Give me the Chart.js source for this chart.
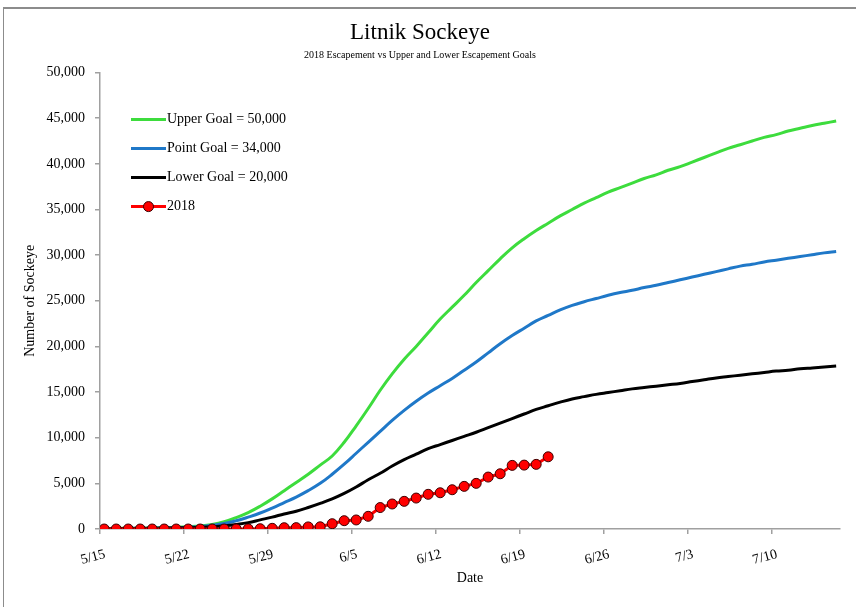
<!DOCTYPE html>
<html>
<head>
<meta charset="utf-8">
<script src="https://cdn.jsdelivr.net/npm/chart.js@4.4.1/dist/chart.umd.min.js"></script>
<style>
  body { margin: 0; background: #fff; }
  #frame { position: absolute; left: 3px; top: 7px; width: 900px; height: 700px; border-left: 1px solid #8c8c8c; border-top: 2px solid #8c8c8c; }
  #q1 { position: absolute; left: 0; top: 0; }
</style>
</head>
<body>
<canvas id="q1" width="856" height="607"></canvas>
<div id="frame"></div>
<script>
// datos, un valor por dia desde el 15 de mayo
const tickLabels = ['5/15', '5/22', '5/29', '6/5', '6/12', '6/19', '6/26', '7/3', '7/10']
const seriesNames = ['Upper Goal = 50,000', 'Point Goal = 34,000', 'Lower Goal = 20,000', '2018']

const upperGoal = [50, 60, 80, 100, 120, 150, 190, 250, 330, 500, 800, 1250, 1800, 2500, 3300, 4200,
    5100, 6000, 7000, 8000, 9500, 11300, 13200, 15200, 17000, 18600, 20000, 21500, 23000, 24300,
    25600, 27000, 28300, 29600, 30800, 31800, 32700, 33500, 34300, 35000, 35700, 36300, 36900,
    37400, 37900, 38400, 38800, 39300, 39700, 40200, 40700, 41200, 41700, 42100, 42500, 42900,
    43200, 43600, 43900, 44200, 44450, 44700]
const pointGoal = [40, 50, 60, 80, 100, 120, 150, 200, 260, 400, 600, 900, 1300, 1750, 2300, 2900,
    3500, 4200, 5000, 6000, 7100, 8300, 9500, 10700, 11900, 13000, 14000, 14900, 15700, 16500,
    17400, 18300, 19300, 20300, 21200, 22000, 22800, 23400, 24000, 24500, 24900, 25250, 25600,
    25900, 26150, 26450, 26700, 27000, 27300, 27600, 27900, 28200, 28500, 28800, 29000, 29250,
    29450, 29650, 29850, 30050, 30250, 30400]
const lowerGoal = [30, 40, 50, 60, 70, 90, 110, 140, 180, 250, 350, 500, 700, 1000, 1300, 1650,
    1950, 2350, 2800, 3300, 3900, 4600, 5400, 6100, 6900, 7600, 8200, 8800, 9250, 9700,
    10150, 10600, 11100, 11600, 12100, 12600, 13100, 13500, 13900, 14250, 14500, 14750, 14950,
    15150, 15350, 15500, 15650, 15800, 15950, 16150, 16350, 16550, 16700, 16850, 17000, 17150,
    17300, 17400, 17550, 17650, 17750, 17850]
const escapement2018 = [0, 0, 0, 0, 0, 0, 0, 0, 0, 0, 0, 5, 10, 30, 75, 140,
    150, 230, 240, 580, 910, 990, 1390, 2350, 2740, 3030, 3390, 3800, 3970, 4300,
    4670, 5000, 5690, 6050, 6970, 7000, 7080, 7910]

const dayOffset = 0.35   // los puntos caen entre marcas, como en Excel
const toPoints = arr => arr.map((v, i) => ({ x: i + dayOffset, y: v }))

const serif = 'Liberation Serif, Times New Roman, serif'

// leyenda dentro del area del grafico
const insideLegend = {
    id: 'insideLegend',
    afterDraw: chart => {
        const ctx = chart.ctx
        const area = chart.chartArea
        const x0 = area.left + 31
        let y = area.top + 47
        const order = [1, 2, 3, 0]
        ctx.save()
        ctx.font = '14px ' + serif
        ctx.textBaseline = 'middle'
        ctx.fillStyle = '#000'
        order.forEach(i => {
            const ds = chart.data.datasets[i]
            ctx.strokeStyle = ds.borderColor
            ctx.lineWidth = ds.borderWidth
            ctx.beginPath()
            ctx.moveTo(x0, y)
            ctx.lineTo(x0 + 35, y)
            ctx.stroke()
            if (ds.pointRadius > 0) {
                ctx.beginPath()
                ctx.arc(x0 + 17.5, y, ds.pointRadius, 0, Math.PI * 2)
                ctx.fillStyle = ds.pointBackgroundColor
                ctx.fill()
                ctx.lineWidth = ds.pointBorderWidth
                ctx.strokeStyle = ds.pointBorderColor
                ctx.stroke()
                ctx.fillStyle = '#000'
            }
            ctx.fillText(ds.label, x0 + 36, y)
            y += 29
        })
        ctx.restore()
    }
}

new Chart('q1', {
    type: 'line',
    data: {
        datasets: [
            {
                label: seriesNames[3],
                data: toPoints(escapement2018),
                borderColor: '#ff0000',
                borderWidth: 3,
                pointRadius: 5,
                pointBackgroundColor: '#ff0000',
                pointBorderColor: '#3a0000',
                pointBorderWidth: 1,
                tension: 0,
                order: 0
            },
            {
                label: seriesNames[0],
                data: toPoints(upperGoal),
                borderColor: '#3ddc3d',
                borderWidth: 3,
                pointRadius: 0,
                tension: 0.4,
                order: 3
            },
            {
                label: seriesNames[1],
                data: toPoints(pointGoal),
                borderColor: '#1f78c8',
                borderWidth: 3,
                pointRadius: 0,
                tension: 0.4,
                order: 2
            },
            {
                label: seriesNames[2],
                data: toPoints(lowerGoal),
                borderColor: '#000000',
                borderWidth: 3,
                pointRadius: 0,
                tension: 0.4,
                order: 1
            }
        ]
    },
    options: {
        responsive: false,
        animation: false,
        layout: { padding: { left: 0, right: 16, top: 0, bottom: 0 } },
        plugins: {
            legend: { display: false },
            tooltip: { enabled: false },
            title: {
                display: true,
                text: 'Litnik Sockeye',
                color: '#000',
                font: { family: serif, size: 23, weight: 'normal' },
                padding: { top: 19, bottom: 3 }
            },
            subtitle: {
                display: true,
                text: '2018 Escapement vs Upper and Lower Escapement Goals',
                color: '#000',
                font: { family: serif, size: 10, weight: 'normal' },
                padding: { top: 0, bottom: 11 }
            }
        },
        scales: {
            x: {
                type: 'linear',
                min: 0,
                max: 61.67,
                afterFit: s => { s.height = 78 },
                afterBuildTicks: s => { s.ticks = tickLabels.map((l, i) => ({ value: i * 7 })) },
                grid: { drawOnChartArea: false, drawTicks: true, tickLength: 5, color: '#a0a0a0', lineWidth: 1.5 },
                border: { display: true, color: '#a0a0a0', width: 1.5 },
                ticks: {
                    color: '#000',
                    font: { family: serif, size: 14 },
                    minRotation: 15,
                    maxRotation: 15,
                    padding: 12,
                    labelOffset: 5,
                    callback: v => tickLabels[Math.round(v / 7)]
                },
                title: {
                    display: true,
                    text: 'Date',
                    color: '#000',
                    font: { family: serif, size: 14 },
                    padding: { top: 4, bottom: 20 }
                }
            },
            y: {
                min: 0,
                max: 50000,
                afterFit: s => { s.width = 100 },
                grid: { drawOnChartArea: false, drawTicks: true, tickLength: 5, color: '#a0a0a0', lineWidth: 1.5 },
                border: { display: true, color: '#a0a0a0', width: 1.5 },
                ticks: {
                    stepSize: 5000,
                    color: '#000',
                    font: { family: serif, size: 14 },
                    padding: 10,
                    callback: v => v.toLocaleString('en-US')
                },
                title: {
                    display: true,
                    text: 'Number of Sockeye',
                    color: '#000',
                    font: { family: serif, size: 14 },
                    padding: { top: 22, bottom: 4 }
                }
            }
        }
    },
    plugins: [insideLegend]
})
</script>
</body>
</html>
